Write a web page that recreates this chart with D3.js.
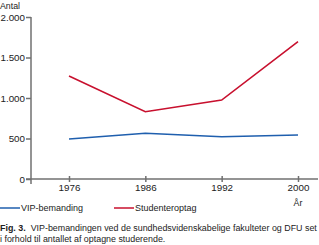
<!DOCTYPE html>
<html lang="da">
<head>
<meta charset="UTF-8">
<title>Fig. 3</title>
<script src="https://cdn.jsdelivr.net/npm/d3@7"></script>
<style>
  body { margin: 0; background: #fff; }
  svg { display: block; font-family: "Liberation Sans Narrow", "Liberation Sans", Arial, sans-serif; }
</style>
</head>
<body>
<script>
const years = ['1976', '1986', '1992', '2000']
const vip = [494, 564, 522, 543]
const studenter = [1272, 831, 975, 1695]
const yTicks = [0, 500, 1000, 1500, 2000]
const seriesNames = ['VIP-bemanding', 'Studenteroptag']
const seriesColors = ['#1f5fae', '#c8102e']
const caption = ['VIP-bemandingen ved de sundhedsvidenskabelige fakulteter og DFU set', 'i forhold til antallet af optagne studerende.']

const width = 319
const height = 245

const svg = d3.select('body').append('svg')
  .attr('width', width)
  .attr('height', height)

const x = d3.scalePoint()
  .domain(years)
  .range([69, 298])

const y = d3.scaleLinear()
  .domain([0, 2000])
  .range([179, 17])

const fmt = d => d3.format(',')(d).replace(/,/g, '.')

// y axis
const yAxis = svg.append('g')
  .attr('transform', 'translate(31,0)')
  .call(d3.axisLeft(y).tickValues(yTicks).tickFormat(fmt).tickSize(5).tickSizeOuter(0))
yAxis.select('.domain').attr('d', `M0,${y(2000)}V${y(0) + 5}`)
yAxis.selectAll('line, path').attr('stroke', '#707070').attr('stroke-width', 1.5)
yAxis.selectAll('text').attr('font-size', 9.8).attr('fill', '#222').attr('x', -6)

// x axis
const xAxis = svg.append('g')
  .attr('transform', `translate(0,${y(0)})`)
  .call(d3.axisBottom(x).tickSize(0))
xAxis.select('.domain').attr('d', `M${26},0H${318}`)
xAxis.selectAll('.tick line').attr('y1', -3).attr('y2', 3)
xAxis.selectAll('line, path').attr('stroke', '#707070').attr('stroke-width', 1.5)
xAxis.selectAll('text').attr('font-size', 9.8).attr('fill', '#222').attr('dy', '0.71em').attr('y', 5)

svg.append('text')
  .attr('x', 0).attr('y', 9)
  .attr('font-size', 8.8).attr('fill', '#222')
  .text('Antal')

svg.append('text')
  .attr('x', x('2000')).attr('y', 206)
  .attr('text-anchor', 'middle')
  .attr('font-size', 8.8).attr('fill', '#222')
  .text('År')

const line = d3.line()
  .x((d, i) => x(years[i]))
  .y(d => y(d))

;[vip, studenter].forEach((s, i) => {
  svg.append('path')
    .datum(s)
    .attr('fill', 'none')
    .attr('stroke', seriesColors[i])
    .attr('stroke-width', 1.6)
    .attr('d', line)
})

// legend
const legendX = [0, 114]
seriesNames.forEach((name, i) => {
  const g = svg.append('g').attr('transform', `translate(${legendX[i]},208)`)
  g.append('line').attr('x1', 0).attr('x2', 20).attr('stroke', seriesColors[i]).attr('stroke-width', 1.5)
  g.append('text').attr('x', 21).attr('y', 3).attr('font-size', 9).attr('fill', '#222').text(name)
})

// caption
const cap = svg.append('text')
  .attr('font-size', 8.9).attr('fill', '#222')
cap.append('tspan').attr('x', 0).attr('y', 231)
  .attr('font-weight', 'bold').text('Fig. 3.')
cap.append('tspan').attr('dx', 5).text(caption[0])
cap.append('tspan').attr('x', 0).attr('y', 242).text(caption[1])
</script>
</body>
</html>
